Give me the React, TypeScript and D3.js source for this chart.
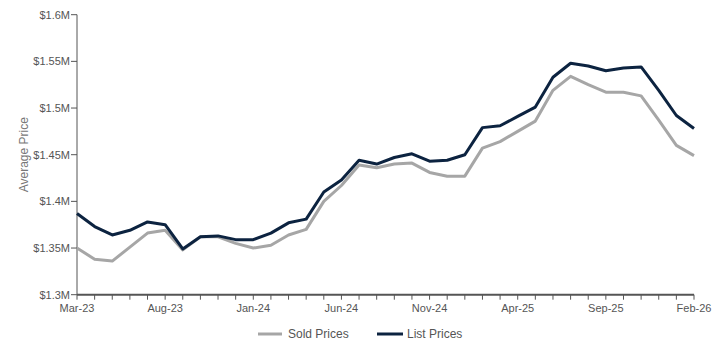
import React from "react";
import * as d3 from "d3";

const months = [
  "Mar-23","Apr-23","May-23","Jun-23","Jul-23","Aug-23","Sep-23","Oct-23","Nov-23","Dec-23",
  "Jan-24","Feb-24","Mar-24","Apr-24","May-24","Jun-24","Jul-24","Aug-24","Sep-24","Oct-24",
  "Nov-24","Dec-24","Jan-25","Feb-25","Mar-25","Apr-25","May-25","Jun-25","Jul-25","Aug-25",
  "Sep-25","Oct-25","Nov-25","Dec-25","Jan-26","Feb-26",
];

const soldPrices = [
  1.350, 1.338, 1.336, 1.351, 1.366, 1.369, 1.348, 1.362, 1.362, 1.355,
  1.350, 1.353, 1.364, 1.370, 1.400, 1.417, 1.439, 1.436, 1.440, 1.441,
  1.431, 1.427, 1.427, 1.457, 1.464, 1.475, 1.486, 1.519, 1.534, 1.525,
  1.517, 1.517, 1.513, 1.487, 1.460, 1.449,
];

const listPrices = [
  1.387, 1.373, 1.364, 1.369, 1.378, 1.375, 1.349, 1.362, 1.363, 1.359,
  1.359, 1.366, 1.377, 1.381, 1.410, 1.423, 1.444, 1.440, 1.447, 1.451,
  1.443, 1.444, 1.450, 1.479, 1.481, 1.491, 1.501, 1.533, 1.548, 1.545,
  1.540, 1.543, 1.544, 1.519, 1.492, 1.478,
];

const yTicks = [1.3, 1.35, 1.4, 1.45, 1.5, 1.55, 1.6];
const xTickLabels = ["Mar-23", "Aug-23", "Jan-24", "Jun-24", "Nov-24", "Apr-25", "Sep-25", "Feb-26"];

const SOLD_COLOR = "#a6a6a6";
const LIST_COLOR = "#0c2340";
const FONT = "'Liberation Sans', Arial, sans-serif";

export default function App() {
  const width = 718;
  const height = 346;
  const left = 77;
  const right = 694;
  const top = 14.7;
  const bottom = 294.7;

  const x = d3.scaleLinear().domain([0, months.length - 1]).range([left, right]);
  const y = d3.scaleLinear().domain([1.3, 1.6]).range([bottom, top]);

  const line = d3
    .line<number>()
    .x((_, i) => x(i))
    .y((d) => y(d));

  const fmt = (v: number) => "$" + d3.format("~g")(+v.toFixed(2)) + "M";

  return (
    <svg
      width={width}
      height={height}
      style={{ position: "absolute", left: 0, top: 0, fontFamily: FONT }}
    >
      {/* y axis */}
      <line x1={left} x2={left} y1={top} y2={bottom} stroke="#555" strokeWidth={1} />
      {yTicks.map((t) => (
        <g key={t}>
          <line x1={left - 6} x2={left} y1={y(t)} y2={y(t)} stroke="#555" strokeWidth={1} />
          <text
            x={left - 7}
            y={y(t)}
            dy="0.35em"
            textAnchor="end"
            fontSize={11}
            fill="#555"
          >
            {fmt(t)}
          </text>
        </g>
      ))}
      <text
        transform={`translate(28, ${(top + bottom) / 2}) rotate(-90)`}
        textAnchor="middle"
        fontSize={12}
        fill="#777"
      >
        Average Price
      </text>

      {/* lines */}
      <path d={line(soldPrices) ?? ""} fill="none" stroke={SOLD_COLOR} strokeWidth={3} strokeLinejoin="round" />
      <path d={line(listPrices) ?? ""} fill="none" stroke={LIST_COLOR} strokeWidth={3} strokeLinejoin="round" />

      {/* x axis */}
      {months.map((m, i) => (
        <line key={m} x1={x(i)} x2={x(i)} y1={bottom} y2={bottom + 5} stroke="#555" strokeWidth={1} />
      ))}
      <line x1={left} x2={right} y1={bottom} y2={bottom} stroke="#555" strokeWidth={2} />
      {months.map((m, i) =>
        xTickLabels.includes(m) ? (
          <text key={m} x={x(i)} y={bottom + 17} textAnchor="middle" fontSize={11} fill="#555">
            {m}
          </text>
        ) : null
      )}

      {/* legend */}
      <line x1={258} x2={282} y1={334} y2={334} stroke={SOLD_COLOR} strokeWidth={3} />
      <text x={288} y={334} dy="0.35em" fontSize={12} fill="#555">Sold Prices</text>
      <line x1={377} x2={403} y1={334} y2={334} stroke={LIST_COLOR} strokeWidth={3} />
      <text x={407} y={334} dy="0.35em" fontSize={12} fill="#555">List Prices</text>
    </svg>
  );
}
